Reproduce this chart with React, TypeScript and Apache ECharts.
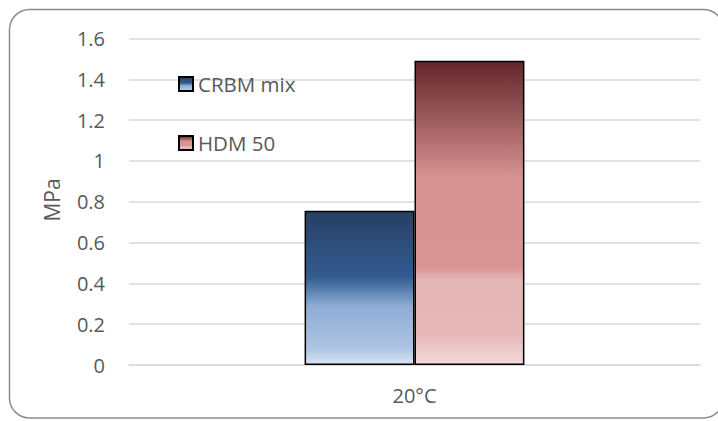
import React, { useEffect, useRef } from "react";
import * as echarts from "echarts";

const categories = ["20°C"];
const seriesNames = ["CRBM mix", "HDM 50"];
const crbmValues = [0.756];
const hdmValues = [1.491];
const yTicks = { min: 0, max: 1.6, interval: 0.2 };

const FONT = "'Open Sans', sans-serif";
const TXT = "#595959";

const blueGrad = () =>
  new echarts.graphic.LinearGradient(0, 0, 0, 1, [
    { offset: 0, color: "#283f63" },
    { offset: 0.43, color: "#325c90" },
    { offset: 0.62, color: "#8eacd5" },
    { offset: 0.9, color: "#aec5e4" },
    { offset: 1, color: "#d9e5f4" },
  ]);
const redGrad = () =>
  new echarts.graphic.LinearGradient(0, 0, 0, 1, [
    { offset: 0, color: "#64252a" },
    { offset: 0.39, color: "#d89494" },
    { offset: 0.68, color: "#d99594" },
    { offset: 0.72, color: "#e4b5b5" },
    { offset: 0.9, color: "#e6b8b8" },
    { offset: 1, color: "#f3dada" },
  ]);

const legendText = { fontFamily: FONT, fontSize: 20.5, color: TXT };

export default function App() {
  const ref = useRef<HTMLDivElement>(null);
  useEffect(() => {
    if (!ref.current) return;
    const chart = echarts.init(ref.current, null, { renderer: "svg" });
    chart.setOption({
      animation: false,
      backgroundColor: "#ffffff",
      grid: { left: 129, right: 18, top: 38.5, bottom: 56 },
      legend: [
        {
          data: [seriesNames[0]],
          left: 173,
          top: 68.5,
          itemWidth: 14,
          itemHeight: 14,
          icon: "rect",
          textStyle: legendText,
        },
        {
          data: [seriesNames[1]],
          left: 173,
          top: 127.5,
          itemWidth: 14,
          itemHeight: 14,
          icon: "rect",
          textStyle: legendText,
        },
      ],
      xAxis: {
        type: "category",
        data: categories,
        axisLine: { show: true, lineStyle: { color: "#d9d9d9", width: 1.5 } },
        axisTick: { show: false },
        axisLabel: { fontFamily: FONT, fontSize: 20, color: TXT, margin: 20 },
      },
      yAxis: {
        type: "value",
        min: yTicks.min,
        max: yTicks.max,
        interval: yTicks.interval,
        axisLine: { show: false },
        axisTick: { show: false },
        splitLine: { lineStyle: { color: "#d9d9d9", width: 1.5 } },
        axisLabel: {
          fontFamily: FONT,
          fontSize: 20,
          color: TXT,
          margin: 24,
          formatter: (v: number) => String(Math.round(v * 10) / 10),
        },
      },
      series: [
        {
          name: seriesNames[0],
          type: "bar",
          data: crbmValues,
          barGap: "0%",
          barCategoryGap: "61.5%",
          itemStyle: { color: blueGrad(), borderColor: "#000", borderWidth: 1.5 },
        },
        {
          name: seriesNames[1],
          type: "bar",
          data: hdmValues,
          itemStyle: { color: redGrad(), borderColor: "#000", borderWidth: 1.5 },
        },
      ],
      graphic: [
        {
          type: "rect",
          shape: { x: 9.5, y: 9.5, width: 714, height: 408.5, r: 20 },
          style: { fill: "none", stroke: "#8c8c8c", lineWidth: 1.5 },
          silent: true,
          z: -1,
        },
        {
          type: "text",
          x: 52,
          y: 200,
          rotation: Math.PI / 2,
          style: {
            text: "MPa",
            fontFamily: FONT,
            fontSize: 21,
            fill: TXT,
            align: "center",
            verticalAlign: "middle",
          },
        },
      ],
    });
    return () => chart.dispose();
  }, []);
  return (
    <div
      ref={ref}
      style={{ position: "fixed", left: 0, top: 0, width: 718, height: 421 }}
    />
  );
}
